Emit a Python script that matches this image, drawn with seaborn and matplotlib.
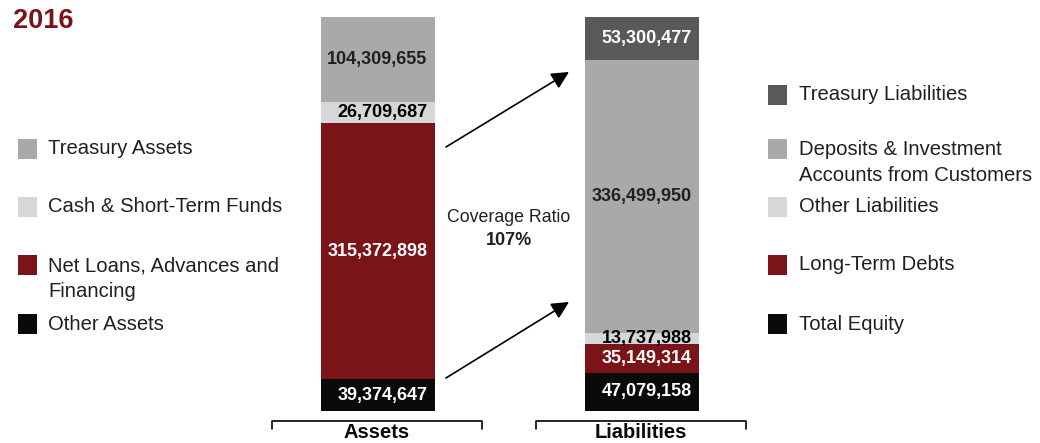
import matplotlib
matplotlib.use("Agg")
import matplotlib.pyplot as plt
from matplotlib.patches import Rectangle, FancyArrowPatch
from matplotlib.lines import Line2D
import seaborn as sns

# ---- data (bottom to top) ----
categories = ["Assets", "Liabilities"]
asset_labels = ["Other Assets", "Net Loans, Advances and\nFinancing",
                "Cash & Short-Term Funds", "Treasury Assets"]
asset_values = [39374647, 315372898, 26709687, 104309655]
liab_labels = ["Total Equity", "Long-Term Debts", "Other Liabilities",
               "Deposits & Investment\nAccounts from Customers", "Treasury Liabilities"]
liab_values = [47079158, 35149314, 13737988, 336499950, 53300477]
title = "2016"
ratio_label = "Coverage Ratio"
ratio_value = "107%"

# ---- style ----
RED = "#7a1418"
GRAY = "#a8a9ab"
LGRAY = "#d6d7d9"
BLACK = "#0a0a0a"
DGRAY = "#58595b"
TXT = "#231f20"
asset_colors = [BLACK, RED, LGRAY, GRAY]
asset_txt = ["white", "white", "black", TXT]
liab_colors = [BLACK, RED, LGRAY, GRAY, DGRAY]
liab_txt = ["white", "white", "black", TXT, "white"]

sns.set_style("white")
plt.rcParams["font.family"] = ["Liberation Sans", "DejaVu Sans"]

W, H = 1040, 443
fig = plt.figure(figsize=(W / 100, H / 100), dpi=100)


def fx(px):
    return px / W


def fy(py):
    return 1 - py / H


PX_PER_UNIT = 264.0
X0 = 377.5
bottom_px, top_px = 411, 17
ax = fig.add_axes([0, fy(bottom_px), 1, fy(top_px) - fy(bottom_px)])
total = max(sum(asset_values), sum(liab_values))
bar_w = 114 / PX_PER_UNIT


def draw_stack(cat, values, colors, tcolors):
    cum = []
    s = 0
    for v in values:
        s += v
        cum.append(s)
    # draw tallest cumulative first so smaller ones overlay
    for c, col in sorted(zip(cum, colors), key=lambda t: -t[0]):
        sns.barplot(x=[cat], y=[c], order=categories, color=col, width=bar_w,
                    saturation=1, errorbar=None, linewidth=0, edgecolor="none", ax=ax)
    pos = categories.index(cat)
    base = 0
    for v, tc in zip(values, tcolors):
        ax.text(pos + bar_w / 2 - 7 / PX_PER_UNIT, base + v / 2, f"{v:,}",
                ha="right", va="center", fontsize=13, fontweight="bold", color=tc)
        base += v


draw_stack("Assets", asset_values, asset_colors, asset_txt)
draw_stack("Liabilities", liab_values, liab_colors, liab_txt)

ax.set_xlim(-X0 / PX_PER_UNIT, (W - X0) / PX_PER_UNIT)
ax.set_ylim(0, total)
ax.axis("off")

# ---- title ----
fig.text(fx(13), fy(21), title, fontsize=19.5, fontweight="bold", color=RED,
         ha="left", va="center")

# ---- legends ----
LEG_FS = 14.6


def legend_entry(xbox, xtext, y, lab, col):
    fig.patches.append(Rectangle((fx(xbox), fy(y + 10)), 19 / W, 20 / H,
                                 transform=fig.transFigure, facecolor=col,
                                 edgecolor="none"))
    if "\n" in lab:
        fig.text(fx(xtext), fy(y - 9), lab, fontsize=LEG_FS, color=TXT,
                 ha="left", va="top", linespacing=1.48)
    else:
        fig.text(fx(xtext), fy(y), lab, fontsize=LEG_FS, color=TXT,
                 ha="left", va="center")


left_y = [324, 265, 207, 149]
for lab, col, y in zip(asset_labels, asset_colors, left_y):
    legend_entry(18, 48, y, lab, col)

right_y = [324, 265, 207, 149, 95]
for lab, col, y in zip(liab_labels, liab_colors, right_y):
    legend_entry(768, 799, y, lab, col)

# ---- coverage ratio ----
fig.text(fx(509), fy(217), ratio_label, fontsize=12.8, color=TXT,
         ha="center", va="center")
fig.text(fx(509), fy(240), ratio_value, fontsize=13, fontweight="bold",
         color=TXT, ha="center", va="center")

# ---- arrows ----
for (x1, y1, x2, y2) in [(446, 147, 569, 72), (446, 378, 569, 302)]:
    fig.add_artist(FancyArrowPatch(
        (fx(x1), fy(y1)), (fx(x2), fy(y2)), transform=fig.transFigure,
        arrowstyle="-|>,head_length=7,head_width=3.5", mutation_scale=1.5,
        color="black", linewidth=1.2, shrinkA=0, shrinkB=0))

# ---- brackets ----
for cx, name in [(377, categories[0]), (641, categories[1])]:
    xl, xr = cx - 105, cx + 105
    fig.add_artist(Line2D(
        [fx(xl), fx(xl), fx(xr), fx(xr)], [fy(429), fy(421), fy(421), fy(429)],
        transform=fig.transFigure, color="black", linewidth=1.2))
    fig.text(fx(cx), fy(442.5), name, fontsize=14.5, fontweight="bold",
             color=BLACK, ha="center", va="bottom")

fig.savefig("out.png", dpi=100)
